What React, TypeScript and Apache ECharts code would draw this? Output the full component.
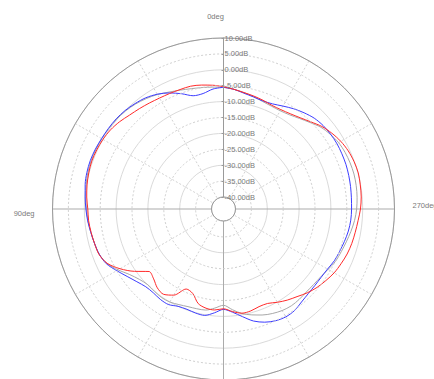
import React, { useEffect, useRef } from "react";
import * as echarts from "echarts";

// Angles in degrees (0 at top, counter-clockwise)
const angles = [
  0, 5, 10, 15, 20, 25, 30, 35, 40, 45, 50, 55, 60, 65, 70, 75, 80, 85,
  90, 95, 100, 105, 110, 115, 120, 125, 130, 135, 140, 145, 150, 155, 160, 165, 170, 175,
  180, 185, 190, 195, 200, 205, 210, 215, 220, 225, 230, 235, 240, 245, 250, 255, 260, 265,
  270, 275, 280, 285, 290, 295, 300, 305, 310, 315, 320, 325, 330, 335, 340, 345, 350, 355,
];

// Gain in dB for each angle
const redGain = [
  -5.3, -4.7, -4.2, -3.8, -3.8, -3.7, -3.5, -3.1, -2.6, -2.0, -1.1, -0.4, 0.0, 0.2, 0.3, 0.1, -0.2, -0.6,
  -1.1, -1.2, -1.5, -1.8, -2.1, -3.4, -6.2, -9.6, -13.2, -12.7, -11.4, -11.0, -12.5, -16.0, -15.5, -13.0, -12.1, -11.9,
  -12.4, -11.4, -10.5, -10.6, -11.1, -11.0, -9.9, -8.8, -7.8, -6.5, -5.4, -4.5, -3.6, -3.0, -2.4, -2.0, -1.7, -1.3,
  -0.7, -0.3, -0.1, 0.1, -0.1, -0.5, -1.2, -2.2, -3.4, -5.0, -6.3, -7.2, -7.7, -7.8, -7.4, -7.0, -6.6, -6.0,
];

const blueGain = [
  -5.5, -5.9, -6.9, -6.9, -5.2, -3.5, -2.1, -1.1, -0.5, 0.0, 0.3, 0.4, 0.5, 0.7, 0.8, 0.7, 0.4, -0.1,
  -0.5, -0.9, -1.4, -1.8, -2.2, -3.1, -5.0, -6.8, -8.2, -9.2, -9.4, -9.1, -9.1, -10.0, -10.2, -9.9, -9.8, -11.0,
  -12.2, -11.2, -9.4, -7.3, -5.9, -5.0, -4.6, -4.8, -5.6, -6.1, -6.3, -6.3, -6.0, -5.3, -4.9, -4.4, -3.9, -3.6,
  -3.5, -3.4, -3.2, -3.0, -2.8, -2.7, -2.6, -2.7, -2.9, -3.4, -4.3, -5.3, -6.4, -7.3, -7.6, -7.3, -6.8, -6.0,
];

const grayGain = [
  -5.5, -5.3, -5.0, -4.6, -4.0, -3.2, -2.2, -1.4, -0.7, -0.2, 0.1, 0.3, 0.4, 0.5, 0.5, 0.4, 0.1, -0.3,
  -0.7, -1.0, -1.4, -1.8, -2.2, -3.3, -5.5, -7.8, -9.3, -10.1, -10.0, -9.8, -10.0, -10.6, -11.1, -11.3, -11.5, -12.5,
  -13.5, -12.0, -10.4, -9.3, -8.3, -7.5, -6.9, -6.6, -6.7, -6.9, -6.8, -6.5, -5.8, -4.9, -4.4, -3.8, -3.1, -2.4,
  -1.9, -1.6, -1.4, -1.3, -1.4, -1.6, -2.0, -2.8, -3.8, -5.3, -6.6, -7.6, -8.1, -8.1, -7.8, -7.2, -6.6, -6.0,
];

const radiusMin = -40;
const radiusMax = 10;
const angleTickValues = [0, 90, 270];
const angleTickLabels = ["0deg", "90deg", "270deg"];
const angleTickStyles = ["t", "l", "r"];

const FONT = "'Liberation Sans', Arial, sans-serif";
const TEXT_COLOR = "#7a7a7a";

function toSeriesData(values: number[]) {
  const pts = angles.map((a, i) => [values[i], a]);
  pts.push([values[0], 360]);
  return pts;
}

export default function App() {
  const ref = useRef<HTMLDivElement>(null);

  useEffect(() => {
    if (!ref.current) return;
    const chart = echarts.init(ref.current, undefined, { renderer: "svg" });
    const center = [223.5, 209];
    const radius = [12, 171];
    const option: any = {
      animation: false,
      backgroundColor: "#ffffff",
      polar: [
        { center, radius },
        { center, radius },
      ],
      angleAxis: [
        {
          polarIndex: 0,
          type: "value",
          min: 0,
          max: 360,
          interval: 30,
          startAngle: 90,
          clockwise: false,
          axisLine: { show: true, lineStyle: { color: "#9a9a9a", width: 1 } },
          axisTick: { show: false },
          axisLabel: {
            margin: 18,
            color: TEXT_COLOR,
            fontSize: 7.5,
            fontFamily: FONT,
            formatter: (v: number) => {
              const idx = angleTickValues.indexOf(v);
              if (idx < 0) return "";
              return "{" + angleTickStyles[idx] + "|" + angleTickLabels[idx] + "}";
            },
            rich: {
              t: { color: TEXT_COLOR, fontSize: 7.5, fontFamily: FONT, padding: [0, 16, 0, 0] },
              l: { color: TEXT_COLOR, fontSize: 7.5, fontFamily: FONT, padding: [8, 0, 0, 0] },
              r: { color: TEXT_COLOR, fontSize: 7.5, fontFamily: FONT, padding: [0, 0, 8, 0] },
            },
          },
          splitLine: {
            show: true,
            lineStyle: { color: ["transparent", "#d2d2d2", "#d2d2d2"], type: [2, 2], width: 1 },
          },
        },
        {
          polarIndex: 1,
          type: "value",
          min: 0,
          max: 360,
          interval: 90,
          startAngle: 90,
          clockwise: false,
          axisLine: { show: false },
          axisTick: { show: false },
          axisLabel: { show: false },
          splitLine: { show: true, lineStyle: { color: "#ababab", width: 1 } },
        },
      ],
      radiusAxis: [
        {
          polarIndex: 0,
          type: "value",
          min: radiusMin,
          max: radiusMax,
          interval: 5,
          z: 10,
          axisLine: { show: true, lineStyle: { color: "#9a9a9a", width: 1 } },
          axisTick: { show: true, length: 2, lineStyle: { color: "#9a9a9a" } },
          axisLabel: {
            show: true,
            margin: -1,
            align: "left",
            verticalAlign: "middle",
            color: TEXT_COLOR,
            fontSize: 7.5,
            fontFamily: FONT,
            formatter: (v: number) => v.toFixed(2) + "dB",
          },
          splitLine: {
            show: true,
            lineStyle: { color: ["transparent", "#cfcfcf"], type: [2, 2], width: 1 },
          },
        },
        {
          polarIndex: 1,
          type: "value",
          min: radiusMin,
          max: radiusMax,
          interval: 10,
          axisLine: { show: false },
          axisTick: { show: false },
          axisLabel: { show: false },
          splitLine: { show: true, lineStyle: { color: "#dadada", width: 1 } },
        },
      ],
      series: [
        {
          name: "gray",
          type: "line",
          coordinateSystem: "polar",
          polarIndex: 0,
          data: toSeriesData(grayGain),
          smooth: 0.3,
          symbol: "none",
          lineStyle: { color: "#a8a8a8", width: 1 },
          z: 3,
        },
        {
          name: "blue",
          type: "line",
          coordinateSystem: "polar",
          polarIndex: 0,
          data: toSeriesData(blueGain),
          smooth: 0.3,
          symbol: "none",
          lineStyle: { color: "#3c3cff", width: 1 },
          z: 4,
        },
        {
          name: "red",
          type: "line",
          coordinateSystem: "polar",
          polarIndex: 0,
          data: toSeriesData(redGain),
          smooth: 0.3,
          symbol: "none",
          lineStyle: { color: "#ff2a2a", width: 1 },
          z: 5,
        },
      ],
    };
    chart.setOption(option);
    return () => chart.dispose();
  }, []);

  return (
    <div
      ref={ref}
      style={{ position: "absolute", left: 0, top: 0, width: 434, height: 379, background: "#fff" }}
    />
  );
}
